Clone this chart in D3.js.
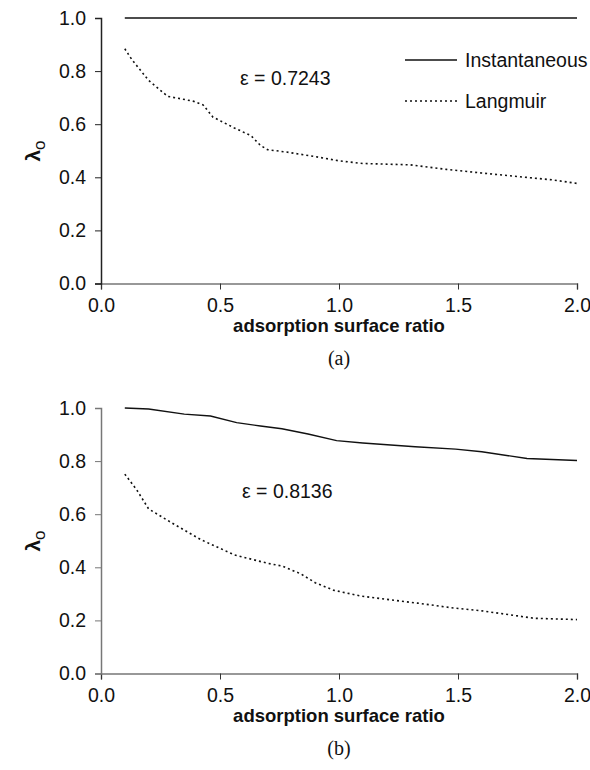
<!DOCTYPE html>
<html>
<head>
<meta charset="utf-8">
<script src="https://cdn.jsdelivr.net/npm/d3@7"></script>
<style>
  body { margin: 0; background: #fff; }
  svg text { font-family: "Liberation Sans", Arial, sans-serif; }
</style>
</head>
<body>
<div id="chart"></div>
<script>
// panel (a)
var xA = [0.1, 0.13, 0.2, 0.28, 0.34, 0.39, 0.43, 0.47, 0.56, 0.63, 0.67, 0.7, 0.78, 0.9, 1.0, 1.1, 1.3, 1.45, 1.6, 1.75, 1.9, 2.0];
var instA = [1, 1, 1, 1, 1, 1, 1, 1, 1, 1, 1, 1, 1, 1, 1, 1, 1, 1, 1, 1, 1, 1];
var langA = [0.884, 0.843, 0.765, 0.705, 0.695, 0.686, 0.672, 0.627, 0.586, 0.557, 0.52, 0.504, 0.495, 0.478, 0.462, 0.452, 0.447, 0.43, 0.416, 0.403, 0.39, 0.377];

// panel (b)
var xInstB = [0.1, 0.2, 0.35, 0.46, 0.57, 0.67, 0.76, 0.87, 0.99, 1.1, 1.32, 1.49, 1.6, 1.79, 2.0];
var instB = [1.0, 0.996, 0.977, 0.97, 0.945, 0.932, 0.922, 0.902, 0.877, 0.868, 0.854, 0.845, 0.835, 0.81, 0.802];
var xLangB = [0.1, 0.15, 0.2, 0.3, 0.42, 0.56, 0.7, 0.76, 0.84, 0.9, 0.98, 1.09, 1.22, 1.33, 1.47, 1.6, 1.75, 1.82, 2.0];
var langB = [0.751, 0.692, 0.62, 0.566, 0.504, 0.447, 0.415, 0.405, 0.375, 0.342, 0.313, 0.292, 0.277, 0.265, 0.248, 0.236, 0.217, 0.208, 0.203];

var xTicks = [0, 0.5, 1.0, 1.5, 2.0];
var yTicks = [0, 0.2, 0.4, 0.6, 0.8, 1.0];
var seriesNames = ["Instantaneous", "Langmuir"];
var epsA = "ε = 0.7243";
var epsB = "ε = 0.8136";

var svgWidth = 590;
var svgHeight = 770;

var svg = d3.select("#chart")
  .append("svg")
  .attr("width", svgWidth)
  .attr("height", svgHeight);

var xScale = d3.scaleLinear().domain([0, 2]).range([101, 577]);

function zip(xs, ys) {
  return xs.map(function(x, i) { return { x: x, y: ys[i] }; });
}

function drawPanel(top, insts, langs, eps, epsPos, letter, yAxisColor, showLegend) {
  var bottom = top + 265.5;
  var yScale = d3.scaleLinear().domain([0, 1]).range([bottom, top]);

  var line = d3.line()
    .x(d => xScale(d.x))
    .y(d => yScale(d.y));

  // x axis
  var xAxis = svg.append("g")
    .attr("transform", `translate(0, ${bottom})`)
    .call(d3.axisBottom(xScale).tickValues(xTicks).tickFormat(d3.format(".1f")).tickSize(6).tickPadding(9));
  xAxis.select(".domain").attr("stroke", "#777").attr("stroke-width", 1.5);
  xAxis.selectAll(".tick line").attr("stroke", "#333");
  xAxis.selectAll("text").attr("font-size", 19.5).attr("fill", "#111");

  // y axis
  var yAxis = svg.append("g")
    .attr("transform", "translate(101, 0)")
    .call(d3.axisLeft(yScale).tickValues(yTicks).tickFormat(d3.format(".1f")).tickSize(6).tickPadding(9));
  yAxis.select(".domain").attr("stroke", yAxisColor).attr("stroke-width", 1.5);
  yAxis.selectAll(".tick line").attr("stroke", yAxisColor);
  yAxis.selectAll("text").attr("font-size", 19.5).attr("fill", "#111");

  // lines
  svg.append("path")
    .datum(insts)
    .attr("d", line)
    .attr("fill", "none")
    .attr("stroke", "#111")
    .attr("stroke-width", 1.4);

  svg.append("path")
    .datum(langs)
    .attr("d", line)
    .attr("fill", "none")
    .attr("stroke", "#111")
    .attr("stroke-width", 1.6)
    .attr("stroke-dasharray", "2,3");

  // epsilon label
  svg.append("text")
    .attr("x", epsPos[0])
    .attr("y", epsPos[1])
    .attr("font-size", 19.5)
    .attr("fill", "#111")
    .text(eps);

  // y label
  var yl = svg.append("text")
    .attr("transform", `translate(40, ${top + 133}) rotate(-90)`)
    .attr("text-anchor", "middle")
    .attr("font-size", 21)
    .attr("font-weight", "bold")
    .attr("fill", "#111");
  yl.append("tspan").text("λ");
  yl.append("tspan").attr("dy", 5).attr("font-weight", "normal").attr("font-size", 17).text("o");

  // x label
  svg.append("text")
    .attr("x", 339)
    .attr("y", bottom + 48)
    .attr("text-anchor", "middle")
    .attr("font-size", 18.5)
    .attr("font-weight", "bold")
    .attr("fill", "#111")
    .text("adsorption surface ratio");

  svg.append("text")
    .attr("x", 339)
    .attr("y", bottom + 81)
    .attr("text-anchor", "middle")
    .attr("font-size", 20)
    .attr("fill", "#111")
    .style("font-family", "'Liberation Serif', 'Times New Roman', serif")
    .text(letter);

  if (showLegend) {
    var legend = svg.append("g");
    seriesNames.forEach(function(name, i) {
      var ly = 60 + i * 41;
      legend.append("line")
        .attr("x1", 405).attr("x2", 457)
        .attr("y1", ly).attr("y2", ly)
        .attr("stroke", "#111")
        .attr("stroke-width", i === 0 ? 1.4 : 1.6)
        .attr("stroke-dasharray", i === 0 ? null : "2,3");
      legend.append("text")
        .attr("x", 465)
        .attr("y", ly + 7)
        .attr("font-size", 19.5)
        .attr("fill", "#111")
        .text(name);
    });
  }
}

drawPanel(18, zip(xA, instA), zip(xA, langA), epsA, [240, 85], "(a)", "#222", true);
drawPanel(408, zip(xInstB, instB), zip(xLangB, langB), epsB, [242, 498], "(b)", "#777", false);
</script>
</body>
</html>
